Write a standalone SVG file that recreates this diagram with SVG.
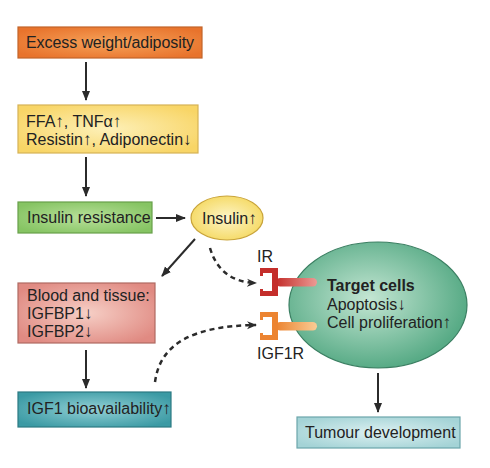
<svg xmlns="http://www.w3.org/2000/svg" width="490" height="468" viewBox="0 0 490 468">
<defs>
<radialGradient id="gOrange" cx="50%" cy="50%" r="60%"><stop offset="0" stop-color="#f6a35a"/><stop offset="1" stop-color="#e8732c"/></radialGradient>
<radialGradient id="gYellow" cx="50%" cy="50%" r="60%"><stop offset="0" stop-color="#fdf0b8"/><stop offset="1" stop-color="#f8d566"/></radialGradient>
<radialGradient id="gGreen" cx="50%" cy="50%" r="60%"><stop offset="0" stop-color="#b8e09a"/><stop offset="1" stop-color="#86c463"/></radialGradient>
<radialGradient id="gIns" cx="50%" cy="50%" r="55%"><stop offset="0" stop-color="#fdf5c8"/><stop offset="1" stop-color="#f5d962"/></radialGradient>
<radialGradient id="gRed" cx="50%" cy="50%" r="60%"><stop offset="0" stop-color="#f6cfc6"/><stop offset="1" stop-color="#e08a82"/></radialGradient>
<radialGradient id="gTeal" cx="50%" cy="50%" r="60%"><stop offset="0" stop-color="#92d0d5"/><stop offset="1" stop-color="#3b9aa4"/></radialGradient>
<radialGradient id="gTum" cx="50%" cy="50%" r="60%"><stop offset="0" stop-color="#dcf0f1"/><stop offset="1" stop-color="#a4d3d6"/></radialGradient>
<radialGradient id="gCell" cx="45%" cy="45%" r="55%"><stop offset="0" stop-color="#c4e6d3"/><stop offset="1" stop-color="#58ab86"/></radialGradient>
<linearGradient id="gIRs" x1="0" x2="1" y1="0" y2="0"><stop offset="0" stop-color="#c42e2b"/><stop offset="1" stop-color="#ec9a94"/></linearGradient>
<linearGradient id="gIGs" x1="0" x2="1" y1="0" y2="0"><stop offset="0" stop-color="#ec8431"/><stop offset="1" stop-color="#f9cc95"/></linearGradient>
<marker id="ah" viewBox="0 0 10 10" refX="9" refY="5" markerWidth="10" markerHeight="10" markerUnits="userSpaceOnUse" orient="auto"><path d="M0,1 L10,5 L0,9 Z" fill="#2b2b2b"/></marker>
<marker id="ahd" viewBox="0 0 10 10" refX="9" refY="5" markerWidth="10" markerHeight="10" markerUnits="userSpaceOnUse" orient="auto"><path d="M0,1 L10,5 L0,9 L3,5 Z" fill="#2b2b2b"/></marker>
</defs>
<style>
text{font-family:"Liberation Sans",Arial,sans-serif;font-size:16px;fill:#222}
.b{font-weight:bold;font-size:16px}
.a{font-size:17px}
.box{stroke-width:1.2}
.ar{stroke:#2b2b2b;stroke-width:2;fill:none;marker-end:url(#ah)}
.da{stroke:#2b2b2b;stroke-width:2.5;fill:none;stroke-dasharray:5 4;marker-end:url(#ahd)}
</style>
<rect width="490" height="468" fill="#ffffff"/>
<g id="n1"><rect class="box" x="18" y="27" width="184" height="31" fill="url(#gOrange)" stroke="#c2642a"/><text x="26" y="48" textLength="168">Excess weight/adiposity</text></g>
<g id="n2"><rect class="box" x="18" y="105" width="180" height="48" fill="url(#gYellow)" stroke="#d6b255"/><text x="26" y="127">FFA<tspan class="a">↑</tspan>, TNFα<tspan class="a">↑</tspan></text><text x="26" y="145">Resistin<tspan class="a">↑</tspan>, Adiponectin<tspan class="a">↓</tspan></text></g>
<g id="n3"><rect class="box" x="18" y="202" width="134" height="31" fill="url(#gGreen)" stroke="#68a04a"/><text x="27" y="223">Insulin resistance</text></g>
<g id="n4"><ellipse cx="227" cy="218" rx="36" ry="22" fill="url(#gIns)" stroke="#c9a43a" stroke-width="1.2"/><text x="202" y="224">Insulin<tspan class="a">↑</tspan></text></g>
<g id="n5"><rect class="box" x="18" y="283" width="137" height="60" fill="url(#gRed)" stroke="#b06a62"/><text x="27" y="301">Blood and tissue:</text><text x="27" y="319">IGFBP1<tspan class="a">↓</tspan></text><text x="27" y="337">IGFBP2<tspan class="a">↓</tspan></text></g>
<g id="n6"><rect class="box" x="18" y="392" width="153" height="35" fill="url(#gTeal)" stroke="#2c7a83"/><text x="27" y="414">IGF1 bioavailability<tspan class="a">↑</tspan></text></g>
<g id="n7"><ellipse cx="378" cy="305" rx="89" ry="63" fill="url(#gCell)" stroke="#3b7f62" stroke-width="1.2"/><text class="b" x="327" y="291">Target cells</text><text x="327" y="310">Apoptosis<tspan class="a">↓</tspan></text><text x="327" y="328">Cell proliferation<tspan class="a">↑</tspan></text></g>
<g id="n8"><rect x="276" y="278" width="41" height="8.5" rx="4.2" fill="url(#gIRs)"/><path d="M260,268 H278 V296 H260 V289 H263 V291 H272 V273 H263 V276 H260 Z" fill="#c42e2b"/><text x="257" y="262">IR</text></g>
<g id="n9"><rect x="276" y="322" width="41" height="8.5" rx="4.2" fill="url(#gIGs)"/><path d="M260,312 H278 V340 H260 V333 H263 V335 H272 V317 H263 V320 H260 Z" fill="#ec8431"/><text x="257" y="359">IGF1R</text></g>
<g id="n10"><rect class="box" x="297" y="417" width="163" height="31" fill="url(#gTum)" stroke="#6ca6ab"/><text x="305" y="438">Tumour development</text></g>
<g id="connectors">
<line class="ar" x1="86" y1="62" x2="86" y2="100"/>
<line class="ar" x1="86" y1="157" x2="86" y2="196"/>
<line class="ar" x1="156" y1="218" x2="185" y2="218"/>
<line class="ar" x1="195" y1="239" x2="162" y2="276"/>
<line class="ar" x1="86" y1="350" x2="86" y2="388"/>
<line class="ar" x1="378" y1="373" x2="378" y2="412"/>
<path class="da" d="M210,248 Q220,282 256,283"/>
<path class="da" d="M155,382 C160,345 190,326 256,325"/>
</g>
</svg>
